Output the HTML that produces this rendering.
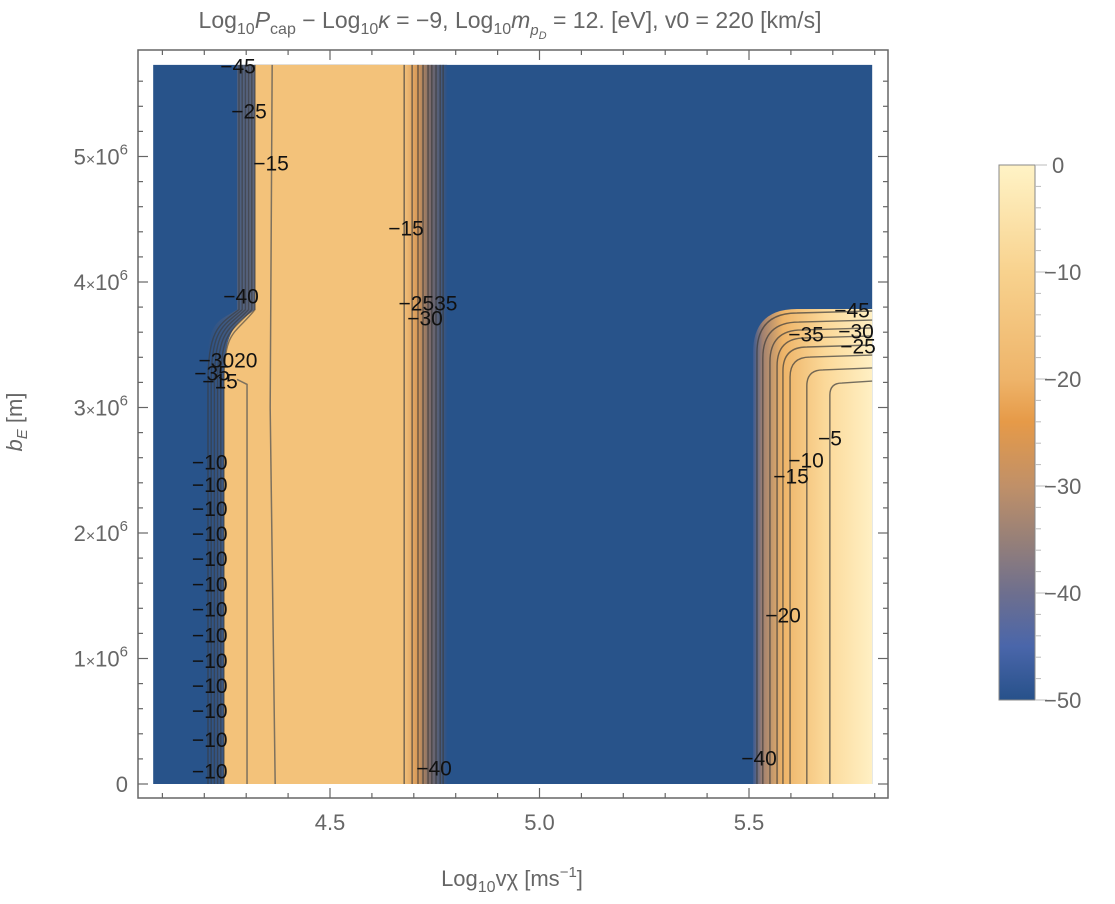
<!DOCTYPE html>
<html><head><meta charset="utf-8"><style>
body{margin:0;background:#fff;}
svg text{font-family:"Liberation Sans",sans-serif;}
</style></head><body>
<svg id="chart" width="1115" height="899" viewBox="0 0 1115 899" xmlns="http://www.w3.org/2000/svg">
<defs>
<linearGradient id="cbGrad" x1="0" y1="0" x2="0" y2="1">
<stop offset="0" stop-color="#fff3c6"/><stop offset="0.2" stop-color="#f8d28e"/>
<stop offset="0.4" stop-color="#eeb46a"/><stop offset="0.48" stop-color="#e69a48"/>
<stop offset="0.6" stop-color="#c09068"/><stop offset="0.7" stop-color="#978078"/>
<stop offset="0.8" stop-color="#6e6f8e"/><stop offset="0.9" stop-color="#4a66aa"/>
<stop offset="1" stop-color="#27518a"/></linearGradient>
<linearGradient id="midGrad" x1="0" y1="0" x2="1" y2="0">
<stop offset="0" stop-color="#f2c07a"/><stop offset="0.3" stop-color="#d89a58"/>
<stop offset="0.6" stop-color="#7a6a6a"/><stop offset="1" stop-color="#2a5288"/></linearGradient>
<linearGradient id="rightGrad" x1="0" y1="0" x2="1" y2="0">
<stop offset="0" stop-color="#3a5a92"/><stop offset="0.08" stop-color="#a08070"/>
<stop offset="0.25" stop-color="#eeb468"/><stop offset="0.6" stop-color="#fbd898"/>
<stop offset="1" stop-color="#fff0c4"/></linearGradient>
<linearGradient id="leftGrad" x1="0" y1="0" x2="1" y2="0">
<stop offset="0" stop-color="#2a5288"/><stop offset="0.3" stop-color="#6a6a78"/>
<stop offset="0.7" stop-color="#5a5555"/><stop offset="1" stop-color="#d8a866"/></linearGradient>
</defs>
<g id="plot"></g>
</svg>
<script>
// axis mapping
const X0=4.5, PX0=330, PXU=419;       // pixels per unit of log10 v
const Y0PX=784, PYU=125.5;            // pixels per 1e6 m
function X(v){return PX0+(v-X0)*PXU;}
function Y(b){return Y0PX-b*PYU;}     // b in units of 1e6 m
const NS='http://www.w3.org/2000/svg';
const g=document.getElementById('plot');
function el(t,a,txt){const e=document.createElementNS(NS,t);for(const k in a)e.setAttribute(k,a[k]);if(txt!==undefined)e.textContent=txt;g.appendChild(e);return e;}

// data
const xRange=[4.078,5.794];
const yRange=[0,5.73];
const leftEdgeUpper=4.321, leftEdgeLower=4.247, leftBendTop=3.78, leftBendBottom=3.20;
const leftLines=[4.362];
const leftLowerLines=[4.302];
const midContours=[4.677,4.696,4.710,4.722,4.734,4.743,4.753,4.763,4.770];
const rightLeft=[5.519,5.533,5.550,5.567,5.581,5.598,5.638,5.693];
const rightTop=[3.753,3.681,3.618,3.554,3.482,3.402,3.299,3.195];
const xTicksMajor=[4.5,5.0,5.5];
const xTickLabels=['4.5','5.0','5.5'];
const yTicksMajor=[0,1,2,3,4,5];
const yTickLabels=['0','1','2','3','4','5'];
const cbTicks=[0,-10,-20,-30,-40,-50];
const leftLabelY=[2.55,2.37,2.18,1.98,1.78,1.58,1.38,1.17,0.97,0.77,0.57,0.34,0.09];

const L=X(xRange[0]),R=X(xRange[1]),T=Y(yRange[1]),B=Y(yRange[0]);
let r=el('rect',{x:L,y:T,width:R-L,height:B-T,fill:'#28538a'});


// left orange column
const eu=X(leftEdgeUpper), elw=X(leftEdgeLower), yt=Y(leftBendTop), yb=Y(leftBendBottom), mid=X(midContours[0]);
let p=el('path',{d:`M${eu-18},${T} L${mid},${T} L${mid},${B} L${elw-17},${B} L${elw-17},${yb} C${elw-17},${yt+10} ${eu-40},${yt+14} ${eu-18},${yt} Z`,fill:'url(#leftGrad)'});

p=el('path',{d:`M${eu},${T} L${mid},${T} L${mid},${B} L${elw},${B} L${elw},${yb} C${elw},${yt+20} ${eu-20},${yt+15} ${eu},${yt} Z`,fill:'#f3c27a'});

for(let i=0;i<6;i++){const o=-16+i*3.2;
 const c=el('path',{d:`M${eu+o},${T} L${eu+o},${yt} C${eu+o-20},${yt+15+i*2} ${elw+o},${yt+20} ${elw+o},${yb} L${elw+o},${B}`,fill:'none',stroke:'#3a3a3a','stroke-opacity':0.6,'stroke-width':1.4});
 }
leftLines.forEach(v=>{const c=el('path',{d:`M${X(v)},${T} L${X(v)-2},${Y(3)} L${X(v)+3},${B}`,fill:'none',stroke:'#555','stroke-opacity':0.75,'stroke-width':1.5});});
leftLowerLines.forEach(v=>{const c=el('path',{d:`M${X(v)-10},${yb-3} L${X(v)},${yb+2} L${X(v)},${B}`,fill:'none',stroke:'#555','stroke-opacity':0.75,'stroke-width':1.5});});

// middle band
const m0=X(midContours[0]),m1=X(midContours[midContours.length-1]);
r=el('rect',{x:m0,y:T,width:m1-m0+4,height:B-T,fill:'url(#midGrad)'});

midContours.forEach((v,i)=>{const c=el('line',{x1:X(v),y1:T,x2:X(v),y2:B,stroke:'#3a3a3a','stroke-opacity':0.7,'stroke-width':1.4});});

// right block
const rl=X(rightLeft[0]),rt=Y(rightTop[0]);
p=el('path',{d:`M${rl-4},${B} L${rl-4},${rt+40} Q${rl-4},${rt-4} ${rl+40},${rt-4} L${R},${rt-4} L${R},${B} Z`,fill:'url(#rightGrad)'});

rightLeft.forEach((v,i)=>{const x=X(v),y=Y(rightTop[i]),rad=Math.max(12,40-i*4);
 const c=el('path',{d:`M${x},${B} L${x},${y+rad} Q${x},${y} ${x+rad},${y} L${R},${y-2}`,fill:'none',stroke:'#3a3a3a','stroke-opacity':0.7,'stroke-width':1.4});
 });

// contour labels
function lab(x,y,t,n){const e=el('text',{x:x,y:y,'font-size':21,fill:'#111','text-anchor':'middle','dominant-baseline':'middle'},t);}
leftLabelY.forEach(b=>lab(X(4.213),Y(b),'−10','contour-label'));
[[238,68,'−45'],[249,113,'−25'],[271,165,'−15'],[406,230,'−15'],[241,298,'−40'],[228,362,'−3020'],[212,375,'−35'],[220,383,'−15'],[428,305,'−2535'],[425,320,'−30'],[434,770,'−40'],[852,312,'−45'],[806,336,'−35'],[856,333,'−30'],[858,348,'−25'],[830,440,'−5'],[806,462,'−10'],[791,478,'−15'],[783,617,'−20'],[759,760,'−40']].forEach(a=>lab(a[0],a[1],a[2],'contour-label'));

// frame
const FL=138,FR=888,FT=50,FB=798;
r=el('rect',{x:FL,y:FT,width:FR-FL,height:FB-FT,fill:'none',stroke:'#666','stroke-width':1.5});

for(let k=41;k<=58;k++){const v=k/10,x=X(v),maj=(k%5===0),len=maj?10:5;
 let t=el('line',{x1:x,y1:FB,x2:x,y2:FB-len,stroke:'#666','stroke-width':1.2});
 t=el('line',{x1:x,y1:FT,x2:x,y2:FT+len,stroke:'#666','stroke-width':1.2});}
xTicksMajor.forEach((v,i)=>{const e=el('text',{x:X(v),y:830,'font-size':22,fill:'#666','text-anchor':'middle'},xTickLabels[i]);});
for(let k=0;k<=28;k++){const b=k/5,y=Y(b),maj=(k%5===0),len=maj?10:5;
 let t=el('line',{x1:FL,y1:y,x2:FL+len,y2:y,stroke:'#666','stroke-width':1.2});
 t=el('line',{x1:FR,y1:y,x2:FR-len,y2:y,stroke:'#666','stroke-width':1.2});}
yTicksMajor.forEach((b,i)=>{let e;
 if(b===0){e=el('text',{x:128,y:Y(b)+8,'font-size':22,fill:'#666','text-anchor':'end'},'0');}
 else{e=el('text',{x:128,y:Y(b)+8,'font-size':22,fill:'#666','text-anchor':'end'});
  e.innerHTML=yTickLabels[i]+'<tspan font-size="16">×</tspan>10<tspan dy="-10" font-size="15">6</tspan>';}
 });

// axis titles
let e=el('text',{x:512,y:886,'font-size':22,fill:'#666','text-anchor':'middle'});
e.innerHTML='Log<tspan dy="6" font-size="16">10</tspan><tspan dy="-6">vχ [ms</tspan><tspan dy="-9" font-size="15">−1</tspan><tspan dy="9">]</tspan>';

e=el('text',{x:0,y:0,'font-size':22,fill:'#666','text-anchor':'middle',transform:'translate(22,422) rotate(-90)'});
e.innerHTML='<tspan font-style="italic">b</tspan><tspan dy="5" font-size="15" font-style="italic">E</tspan><tspan dy="-5"> [m]</tspan>';

e=el('text',{x:510,y:28,'font-size':23,fill:'#666','text-anchor':'middle'});
e.innerHTML='Log<tspan dy="6" font-size="16">10</tspan><tspan dy="-6" font-style="italic">P</tspan><tspan dy="6" font-size="16">cap</tspan><tspan dy="-6"> − Log</tspan><tspan dy="6" font-size="16">10</tspan><tspan dy="-6" font-style="italic">κ</tspan> = −9, Log<tspan dy="6" font-size="16">10</tspan><tspan dy="-6" font-style="italic">m</tspan><tspan dy="7" font-size="15" font-style="italic">p</tspan><tspan dy="4" font-size="11" font-style="italic">D</tspan><tspan dy="-11"> = 12. [eV], v0 = 220 [km/s]</tspan>';


// colorbar
const CT=165,CB=700,CL=999,CR=1035;
function CY(v){return CT+(0-v)/50*(CB-CT);}
r=el('rect',{x:CL,y:CT,width:CR-CL,height:CB-CT,fill:'url(#cbGrad)',stroke:'#888','stroke-width':1});

for(let v=0;v>=-50;v-=2){const t=el('line',{x1:CR,y1:CY(v),x2:CR+(v%10===0?12:6),y2:CY(v),stroke:'#bbb','stroke-width':1});}
cbTicks.forEach(v=>{const t=el('text',{x:v===0?1052:1044,y:CY(v)+8,'font-size':22,fill:'#666'},v===0?'0':'−'+(-v));});
</script>
</body></html>
